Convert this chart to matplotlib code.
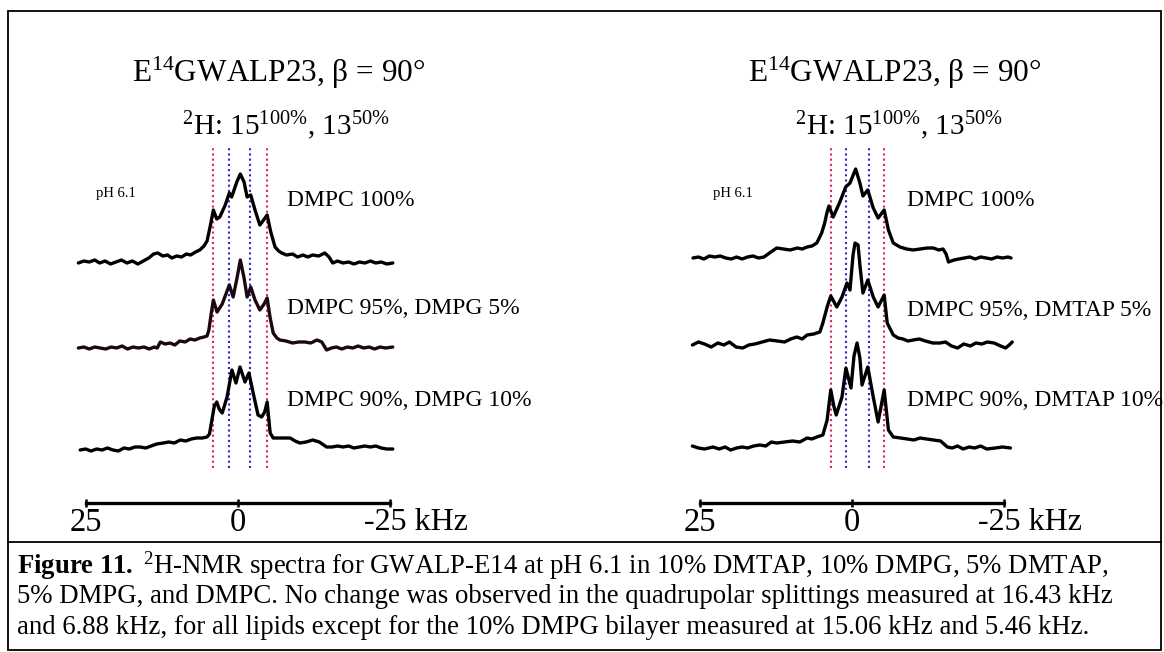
# 2H-NMR spectra of E14GWALP23 in DMPC with DMPG / DMTAP (two panels)

import matplotlib.pyplot as plt
from matplotlib.lines import Line2D
from matplotlib.patches import Rectangle

plt.rcParams['font.family'] = 'Liberation Serif'
plt.rcParams['mathtext.fontset'] = 'custom'
plt.rcParams['mathtext.rm'] = 'Liberation Serif'
plt.rcParams['mathtext.it'] = 'Liberation Serif:italic'
plt.rcParams['mathtext.bf'] = 'Liberation Serif:bold'

# ---- data (frequency in kHz, intensity in arbitrary units above baseline) ----
# left panel: DMPC / DMPG
l1_khz = [26.3, 25.4, 24.5, 23.6, 22.8, 21.9, 21.0, 20.1, 19.2, 18.3, 17.4, 16.5, 15.6, 14.7, 13.9,
          13.2, 12.4, 11.6, 10.9, 10.1, 9.3, 8.5, 7.8, 7.0, 6.3, 5.6, 5.1, 4.6, 4.06, 3.5,
          3.0, 2.1, 1.43, 1.04, 0.2, -0.38, -1.0, -1.5, -2.1, -2.8, -3.6, -4.1, -4.8, -5.4, -6.1,
          -6.7, -7.2, -8.0, -9.0, -9.8, -10.7, -11.5, -12.3, -13.3, -14.3, -15.0, -15.6, -16.4, -17.3, -18.2,
          -19.1, -20.0, -20.9, -21.8, -22.7, -23.6, -24.5, -25.5]
l1_int = [0, 2, 1, 3, 0, 2, -1, 1, 3, 0, 2, -1, 2, 5, 9,
          10, 7, 8, 5, 7, 6, 9, 8, 11, 13, 17, 22, 36, 53, 44,
          46, 58, 70, 66, 81, 89, 81, 66, 68, 53, 38, 42, 48, 31, 16,
          12, 10, 8, 9, 6, 8, 6, 8, 7, 10, 6, 0, 2, 0, 1,
          -1, 1, 0, 2, 0, 1, -1, 0]

l2_khz = [26.3, 25.4, 24.5, 23.6, 22.7, 21.8, 20.9, 20.0, 19.1, 18.2, 17.3, 16.4, 15.5, 14.6, 13.8,
          13.3, 12.8, 12.0, 11.2, 10.4, 9.6, 8.7, 7.9, 7.1, 6.3, 5.6, 5.1, 4.8, 4.4, 4.06,
          3.45, 2.6, 1.43, 0.8, 0.16, -0.38, -1.0, -1.5, -2.1, -2.8, -3.6, -4.3, -4.8, -5.3, -5.8,
          -6.4, -6.9, -7.9, -9.0, -10.0, -11.0, -12.0, -13.0, -13.8, -14.6, -15.4, -16.2, -17.1, -18.0, -18.9,
          -19.8, -20.7, -21.6, -22.5, -23.4, -24.3, -25.5]
l2_int = [0, 1, -1, 1, 0, -1, 1, 0, 2, -1, 1, 0, 1, -1, 1,
          0, 6, 4, 5, 3, 7, 6, 9, 8, 10, 11, 12, 18, 35, 48,
          36, 44, 63, 51, 70, 88, 70, 51, 61, 48, 38, 44, 50, 30, 15,
          10, 8, 7, 5, 6, 6, 5, 8, 6, -2, 0, 1, -1, 1, 0,
          2, 0, 1, -1, 1, 0, 1]

l3_khz = [26.0, 25.1, 24.2, 23.3, 22.4, 21.5, 20.6, 19.7, 18.8, 17.9, 17.0, 16.1, 15.2, 14.3, 13.4,
          12.3, 11.4, 10.5, 9.5, 8.6, 7.7, 6.8, 5.9, 5.1, 4.7, 4.3, 3.9, 3.5, 3.1, 2.6,
          2.2, 1.8, 1.0, 0.33, -0.33, -1.15, -1.8, -2.5, -3.3, -3.9, -4.4, -4.8, -5.3, -5.8, -6.6,
          -7.6, -8.6, -9.4, -10.2, -11.2, -12.3, -13.4, -14.6, -15.5, -16.4, -17.3, -18.2, -19.1, -20.0, -20.9,
          -21.8, -22.7, -23.6, -24.5, -25.5]
l3_int = [0, 1, -1, 1, 0, 2, 0, -1, 2, 1, 3, 3, 2, 4, 6,
          7, 8, 7, 10, 9, 11, 12, 12, 13, 16, 30, 44, 48, 41, 37,
          45, 53, 80, 67, 83, 68, 77, 57, 35, 33, 38, 48, 17, 12, 12,
          12, 12, 9, 7, 8, 10, 8, 3, 3, 4, 3, 4, 2, 3, 4,
          3, 4, 2, 1, 1]

# right panel: DMPC / DMTAP
r1_khz = [26.2, 25.3, 24.4, 23.5, 22.6, 21.7, 20.8, 19.9, 19.0, 18.1, 17.2, 16.3, 15.4, 14.5, 13.6,
          12.4, 11.3, 10.2, 9.0, 8.2, 7.4, 6.6, 5.8, 5.0, 4.5, 4.1, 3.8, 3.1, 2.0, 1.04,
          0.33, -0.6, -1.3, -1.8, -2.6, -3.5, -4.3, -5.3, -6.0, -6.8, -7.9, -9.0, -10.1, -11.2, -12.4,
          -13.4, -14.3, -15.0, -15.5, -15.9, -16.8, -17.6, -18.5, -19.4, -20.3, -21.2, -22.1, -23.0, -23.9, -24.8,
          -25.7, -26.2]
r1_int = [0, 1, -1, 2, 1, 2, 0, -1, 1, -1, 1, 2, 0, 1, 5,
          10, 9, 8, 10, 9, 11, 12, 15, 25, 35, 46, 52, 41, 56, 71,
          75, 89, 75, 62, 68, 50, 40, 48, 28, 15, 11, 9, 8, 9, 10,
          10, 8, 9, 4, -4, -2, -1, 0, 1, -1, 1, 0, -1, 1, 0,
          1, 0]

r2_khz = [26.3, 25.3, 24.3, 23.2, 22.1, 21.1, 20.2, 19.1, 18.0, 17.0, 16.0, 14.8, 13.6, 12.3, 11.1,
          10.1, 9.1, 8.2, 7.4, 6.3, 5.3, 4.8, 4.1, 3.5, 2.5, 1.65, 0.83, 0.33, -0.17, -0.5,
          -1.0, -1.3, -1.8, -2.6, -3.5, -4.3, -5.3, -5.8, -6.8, -7.6, -8.4, -9.2, -10.1, -11.1, -12.1,
          -13.3, -14.5, -15.4, -16.4, -17.4, -18.4, -19.5, -20.4, -21.4, -22.3, -23.4, -24.5, -25.3, -25.9, -26.4]
r2_int = [0, 3, 1, -2, 2, 0, 3, -2, -3, 0, 1, 3, 5, 4, 3,
          6, 8, 6, 10, 11, 13, 22, 38, 49, 38, 48, 62, 55, 90, 102,
          100, 80, 52, 65, 48, 38, 50, 22, 10, 7, 6, 4, 5, 6, 4,
          2, 2, 3, -1, -3, 1, -1, 2, 1, 3, 2, -1, -3, 0, 3]

r3_khz = [26.3, 25.3, 24.3, 22.9, 21.9, 20.9, 20.0, 19.0, 18.1, 17.2, 16.2, 15.2, 14.2, 13.3, 12.4,
          11.1, 9.8, 8.6, 7.4, 6.6, 5.8, 4.8, 4.1, 3.5, 3.0, 2.6, 1.65, 1.0, 0.17, -0.33,
          -0.83, -1.3, -1.65, -2.6, -3.5, -4.3, -5.3, -6.0, -6.8, -8.0, -9.1, -10.2, -11.2, -12.3, -13.4,
          -14.6, -15.7, -16.5, -17.4, -18.3, -19.3, -20.2, -21.2, -22.2, -23.6, -24.8, -26.1]
r3_int = [2, 0, -1, 1, -1, 1, -2, 0, 1, 0, 2, 3, 2, 6, 5,
          6, 7, 6, 10, 9, 11, 13, 28, 58, 42, 33, 51, 80, 60, 92,
          105, 90, 63, 81, 51, 26, 58, 18, 11, 10, 9, 8, 10, 9, 8,
          7, 1, 0, 2, -1, 1, 0, 2, -1, 0, 1, 0]

left_labels = ["DMPC 100%", "DMPC 95%, DMPG 5%", "DMPC 90%, DMPG 10%"]
right_labels = ["DMPC 100%", "DMPC 95%, DMTAP 5%", "DMPC 90%, DMTAP 10%"]

# quadrupolar splitting markers (kHz), outer pair red, inner pair blue
left_outer = [4.06, -4.82]
left_inner = [1.43, -2.02]
right_outer = [3.47, -5.34]
right_inner = [1.04, -2.81]

scale_ticks = [25, 0, -25]

# ---- figure ----
W, H = 1164, 652
fig = plt.figure(figsize=(W / 100, H / 100), dpi=100)


def fx(x):
    return x / W


def fy(y):
    return 1 - y / H


# outer frame and caption separator
fig.add_artist(Rectangle((fx(8), fy(650)), fx(1161 - 8), (650 - 11) / H,
                         transform=fig.transFigure, fill=False, lw=1.3, ec='black'))
fig.add_artist(Line2D([fx(8), fx(1161)], [fy(542), fy(542)], transform=fig.transFigure,
                      lw=1.3, color='black'))

red = '#e0245e'
blue = '#2a2ad0'

panels = [
    dict(x0=238, spectra=[(l1_khz, l1_int), (l2_khz, l2_int), (l3_khz, l3_int)],
         labels=left_labels, outer=left_outer, inner=left_inner, label_x=-8.1,
         colors=['black', '#1c0810', 'black'], offsets=[240, 155, 53], label_y=[303, 195, 102],
         title_x=279, sub_x=286, ph_x=96),
    dict(x0=852, spectra=[(r1_khz, r1_int), (r2_khz, r2_int), (r3_khz, r3_int)],
         labels=right_labels, outer=right_outer, inner=right_inner, label_x=-9.05,
         colors=['black', 'black', 'black'], offsets=[245, 158, 55], label_y=[303, 193, 103],
         title_x=895, sub_x=899, ph_x=713),
]

kpx = 6.07  # pixels per kHz
for p in panels:
    left_px = p['x0'] - 30 * kpx
    ax = fig.add_axes([fx(left_px), fy(503), 60 * kpx / W, 363 / H])
    ax.set_xlim(30, -30)
    ax.set_ylim(0, 363)

    for xs in p['outer']:
        ax.plot([xs, xs], [35, 355], color=red, lw=1.5, ls=(0, (1, 1.5)))
    for xs in p['inner']:
        ax.plot([xs, xs], [35, 355], color=blue, lw=1.5, ls=(0, (1, 1.5)))

    for (khz, inten), off, col in zip(p['spectra'], p['offsets'], p['colors']):
        ax.plot(khz, [v + off for v in inten], color=col, lw=2.4,
                solid_joinstyle='round', solid_capstyle='round')

    for lab, ly in zip(p['labels'], p['label_y']):
        ax.text(p['label_x'], ly, lab, fontsize=17, va='center', ha='left')

    # scale bar as the bottom axis
    for s in ['top', 'left', 'right']:
        ax.spines[s].set_visible(False)
    ax.spines['bottom'].set_bounds(-25, 25)
    ax.spines['bottom'].set_linewidth(2.4)
    ax.set_yticks([])
    ax.set_xticks(scale_ticks)
    ax.set_xticklabels(['25', '0', ''])
    ax.tick_params(axis='x', direction='inout', length=6, width=1.8, labelsize=23.5, pad=0)
    ax.annotate('-25 kHz', xy=(-25, 0), xytext=(-18.5, -3.5), textcoords='offset points',
                fontsize=23, ha='left', va='top')
    ax.patch.set_visible(False)

    fig.text(fx(p['title_x']), fy(82), r"E$^{14}$GWALP23, β = 90°", fontsize=22.5,
             ha='center', va='baseline')
    fig.text(fx(p['sub_x']), fy(135), r"$^{2}$H: 15$^{100\%}$, 13$^{50\%}$", fontsize=21,
             ha='center', va='baseline')
    fig.text(fx(p['ph_x']), fy(193), "pH 6.1", fontsize=10.5, ha='left', va='center')

cap = [r"$\mathbf{Figure\ 11.}$ $^{2}$H-NMR spectra for GWALP-E14 at pH 6.1 in 10% DMTAP, 10% DMPG, 5% DMTAP,",
       "5% DMPG, and DMPC. No change was observed in the quadrupolar splittings measured at 16.43 kHz",
       "and 6.88 kHz, for all lipids except for the 10% DMPG bilayer measured at 15.06 kHz and 5.46 kHz."]
for i, line in enumerate(cap):
    fig.text(fx(17), fy(566 + 30.5 * i), line, fontsize=19.3, ha='left', va='center')

fig.savefig('out.png', dpi=100, facecolor='white')
